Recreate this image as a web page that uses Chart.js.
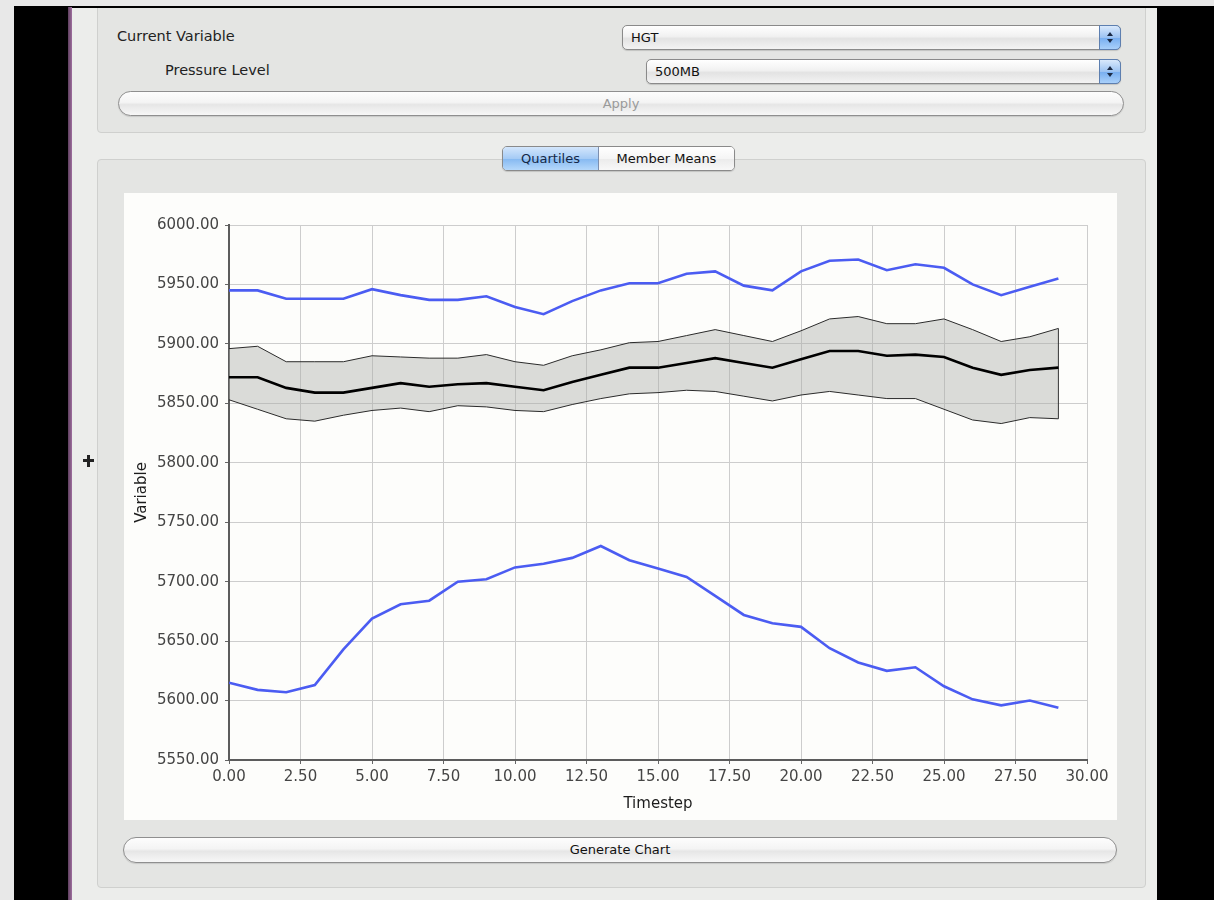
<!DOCTYPE html>
<html>
<head>
<meta charset="utf-8">
<title>HGT 500MB – Quartiles</title>
<script src="https://cdn.jsdelivr.net/npm/chart.js@4/dist/chart.umd.min.js"></script>
<style>
  html, body { margin: 0; padding: 0; }
  body {
    width: 1214px; height: 900px; position: relative; overflow: hidden;
    background: #e8e8e8;
    font-family: "DejaVu Sans", sans-serif;
  }
  .abs { position: absolute; }
  #frame { left: 14px; top: 6px; right: 0; bottom: 0; background: #000; }
  #edge { left: 68px; top: 7px; width: 4px; bottom: 0; background: linear-gradient(90deg, #5e3f5e, #a070a0); }
  #win { left: 72px; top: 8px; width: 1085px; bottom: 0; background: #ecedeb; overflow: hidden; }
  .panel {
    position: absolute; background: #e4e5e3; border: 1px solid #cfd0ce; border-radius: 4px;
    box-sizing: border-box;
  }
  .lbl { position: absolute; font-size: 14.5px; color: #222; white-space: nowrap; line-height: 18px; }
  .popup {
    position: absolute; box-sizing: border-box; height: 25px;
    border: 1px solid #8a8a8a; border-radius: 5px;
    background: linear-gradient(#ffffff, #f1f1f1 45%, #e3e3e3 55%, #f3f3f3);
    box-shadow: 0 1px 1px rgba(0,0,0,0.15);
    font-size: 13px; line-height: 23px; padding-left: 8px; color: #111;
  }
  .popup .cap {
    position: absolute; right: -1px; top: -1px; width: 22px; height: 25px; box-sizing: border-box;
    border: 1px solid #5d7fb0; border-radius: 0 5px 5px 0;
    background: linear-gradient(#d9e9fc, #9cc3f2 50%, #77aef0 52%, #a9d0fa);
  }
  .cap:before, .cap:after {
    content: ""; position: absolute; left: 7px; width: 0; height: 0;
    border-left: 3px solid transparent; border-right: 3px solid transparent;
  }
  .cap:before { top: 6px; border-bottom: 4px solid #1b2a44; }
  .cap:after { top: 13px; border-top: 4px solid #1b2a44; }
  .pill {
    position: absolute; box-sizing: border-box; border: 1px solid #8f8f8f; border-radius: 13px;
    background: linear-gradient(#fdfdfd, #f4f4f4 45%, #e6e6e6 55%, #f7f7f7);
    box-shadow: 0 1px 1px rgba(0,0,0,0.12);
    text-align: center; font-size: 13px; line-height: 23px;
  }
  #seg {
    position: absolute; left: 430px; top: 138px; width: 233px; height: 25px; box-sizing: border-box;
    border: 1px solid #8a8a8a; border-radius: 5px; overflow: hidden; display: flex;
    box-shadow: 0 1px 1px rgba(0,0,0,0.15); font-size: 13px; line-height: 23px;
  }
  #seg .on { width: 95px; text-align: center; color: #132848; border-right: 1px solid #7d8fae;
             background: linear-gradient(#d3e6fc, #a5cbf5 50%, #86b9f1 52%, #b5d8fb); }
  #seg .off { flex: 1; text-align: center; color: #111;
              background: linear-gradient(#ffffff, #f5f5f5 50%, #ebebeb 52%, #f8f8f8); }
  #plotbox { left: 52px; top: 185px; width: 993px; height: 627px; background: #fdfdfb; }
  #cursor1, #cursor2 { position: absolute; background: #222; }
</style>
</head>
<body>
<div id="frame" class="abs"></div>
<div id="edge" class="abs"></div>
<div id="win" class="abs">
  <!-- variable selection group -->
  <div class="panel" style="left:25px; top:-8px; width:1049px; height:133px;"></div>
  <div class="lbl" style="left:45px; top:19px;">Current Variable</div>
  <div class="lbl" style="left:93px; top:53px;">Pressure Level</div>
  <div class="popup" style="left:550px; top:17px; width:499px;">HGT<div class="cap"></div></div>
  <div class="popup" style="left:574px; top:51px; width:475px;">500MB<div class="cap"></div></div>
  <div class="pill" style="left:46px; top:83px; width:1006px; height:25px; color:#9a9a9a;">Apply</div>

  <!-- chart group -->
  <div class="panel" style="left:25px; top:151px; width:1049px; height:729px;"></div>
  <div id="seg"><div class="on">Quartiles</div><div class="off">Member Means</div></div>
  <div id="plotbox" class="abs"><canvas id="chart" width="993" height="627"></canvas></div>
  <div class="pill" style="left:51px; top:829px; width:994px; height:26px; color:#111; line-height:24px;">Generate Chart</div>

  <!-- move cursor -->
  <div id="cursor1" style="left:11px; top:451px; width:11px; height:3px;"></div>
  <div id="cursor2" style="left:15px; top:446.5px; width:3px; height:12px;"></div>
</div>

<script>
// Ensemble statistics of 500 mb geopotential height per timestep
const timesteps = [0, 1, 2, 3, 4, 5, 6, 7, 8, 9, 10, 11, 12, 13, 14,
                   15, 16, 17, 18, 19, 20, 21, 22, 23, 24, 25, 26, 27, 28, 29];

const maxVals = [5945, 5945, 5938, 5938, 5938, 5946, 5941, 5937, 5937, 5940,
                 5931, 5925, 5936, 5945, 5951, 5951, 5959, 5961, 5949, 5945,
                 5961, 5970, 5971, 5962, 5967, 5964, 5950, 5941, 5948, 5955];

const upperQuartile = [5896, 5898, 5885, 5885, 5885, 5890, 5889, 5888, 5888, 5891,
                       5885, 5882, 5890, 5895, 5901, 5902, 5907, 5912, 5907, 5902,
                       5911, 5921, 5923, 5917, 5917, 5921, 5912, 5902, 5906, 5913];

const medianVals = [5872, 5872, 5863, 5859, 5859, 5863, 5867, 5864, 5866, 5867,
                    5864, 5861, 5868, 5874, 5880, 5880, 5884, 5888, 5884, 5880,
                    5887, 5894, 5894, 5890, 5891, 5889, 5880, 5874, 5878, 5880];

const lowerQuartile = [5853, 5845, 5837, 5835, 5840, 5844, 5846, 5843, 5848, 5847,
                       5844, 5843, 5849, 5854, 5858, 5859, 5861, 5860, 5856, 5852,
                       5857, 5860, 5857, 5854, 5854, 5845, 5836, 5833, 5838, 5837];

const minVals = [5615, 5609, 5607, 5613, 5643, 5669, 5681, 5684, 5700, 5702,
                 5712, 5715, 5720, 5730, 5718, 5711, 5704, 5688, 5672, 5665,
                 5662, 5644, 5632, 5625, 5628, 5612, 5601, 5596, 5600, 5594];

const xTickStep = 2.5;
const yTickStep = 50;
const xRange = [0, 30];
const yRange = [5550, 6000];

const BLUE = '#4b5cf2';
const tickFont = { family: 'DejaVu Sans', size: 15 };
const titleFont = { family: 'DejaVu Sans', size: 15 };

const pts = vals => timesteps.map((t, i) => ({ x: t, y: vals[i] }));
const last = timesteps.length - 1;

new Chart(document.getElementById('chart'), {
  type: 'line',
  data: {
    datasets: [
      { label: 'Maximum', data: pts(maxVals), borderColor: BLUE, borderWidth: 2.6,
        pointRadius: 0, fill: false, tension: 0 },
      { label: 'Upper quartile', data: pts(upperQuartile), borderColor: '#2a2a2a', borderWidth: 1,
        pointRadius: 0, fill: '+2', backgroundColor: 'rgba(170,172,168,0.42)', tension: 0 },
      { label: 'Median', data: pts(medianVals), borderColor: '#000', borderWidth: 2.6,
        pointRadius: 0, fill: false, tension: 0 },
      { label: 'Lower quartile', data: pts(lowerQuartile), borderColor: '#2a2a2a', borderWidth: 1,
        pointRadius: 0, fill: false, tension: 0 },
      { label: 'Minimum', data: pts(minVals), borderColor: BLUE, borderWidth: 2.6,
        pointRadius: 0, fill: false, tension: 0 },
      // closing edge of the interquartile band at the final timestep
      { label: 'Band edge', data: [{ x: timesteps[last], y: lowerQuartile[last] },
                                    { x: timesteps[last], y: upperQuartile[last] }],
        borderColor: '#333', borderWidth: 1, pointRadius: 0, fill: false }
    ]
  },
  options: {
    responsive: false,
    animation: false,
    devicePixelRatio: 1,
    layout: { padding: { top: 32, right: 30, left: 0, bottom: 0 } },
    plugins: {
      legend: { display: false },
      tooltip: { enabled: false },
      filler: { drawTime: 'beforeDatasetsDraw' }
    },
    scales: {
      x: {
        type: 'linear', min: xRange[0], max: xRange[1],
        ticks: { stepSize: xTickStep, autoSkip: false, maxRotation: 0, padding: 4,
                 color: '#454545', font: tickFont, callback: v => Number(v).toFixed(2) },
        grid: { color: '#cdcdcd', lineWidth: 1, tickColor: '#666', tickLength: 4 },
        border: { color: '#5c5c5c', width: 2 },
        title: { display: true, text: 'Timestep', color: '#1c1c1c', font: titleFont,
                 padding: { top: 0, bottom: 7 } },
        afterFit(scale) { scale.height = 60; }
      },
      y: {
        type: 'linear', min: yRange[0], max: yRange[1],
        ticks: { stepSize: yTickStep, padding: 6, color: '#454545', font: tickFont,
                 callback: v => Number(v).toFixed(2) },
        grid: { color: '#cdcdcd', lineWidth: 1, tickColor: '#666', tickLength: 4 },
        border: { color: '#5c5c5c', width: 2 },
        title: { display: true, text: 'Variable', color: '#1c1c1c', font: titleFont,
                 padding: { top: 9, bottom: 0 } },
        afterFit(scale) { scale.width = 105; }
      }
    }
  }
});
</script>
</body>
</html>
